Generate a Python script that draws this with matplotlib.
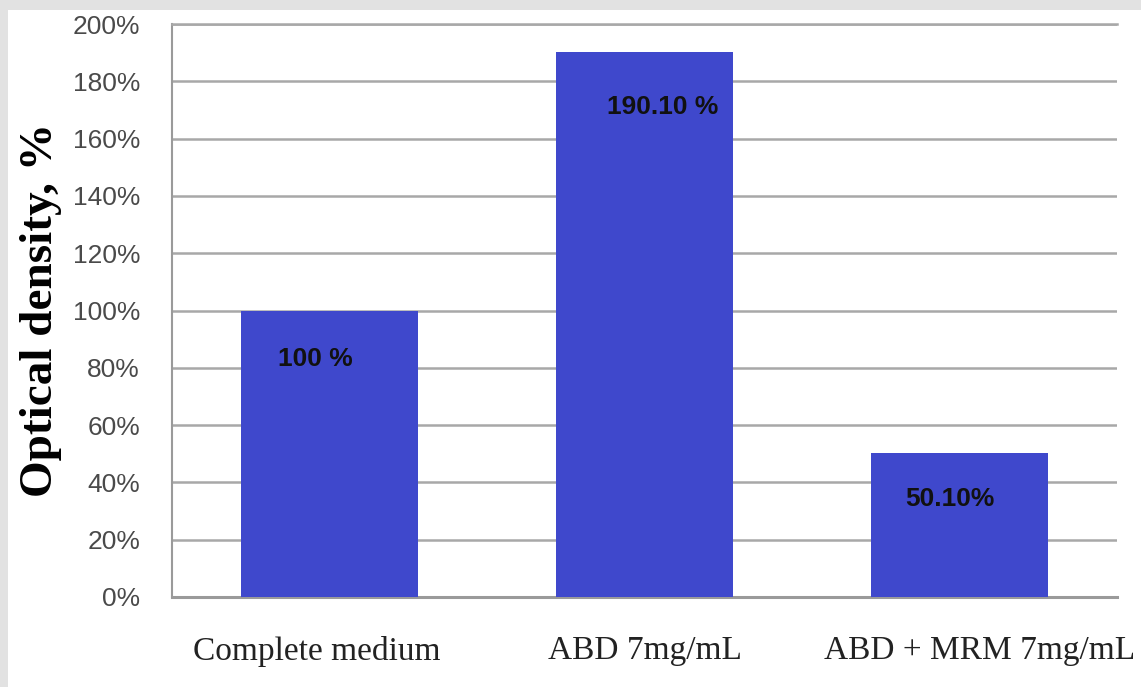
import numpy as np
import matplotlib.pyplot as plt
from matplotlib.patches import Rectangle

# data
categories = ['Complete medium', 'ABD 7mg/mL', 'ABD + MRM 7mg/mL']
values = [100, 190.1, 50.1]
bar_labels = ['100 %', '190.10 %', '50.10%']
yticks = [0, 20, 40, 60, 80, 100, 120, 140, 160, 180, 200]

fig = plt.figure(figsize=(11.41, 6.87), dpi=100)
fig.patch.set_facecolor('white')

# light gray frame on top and left
fig.patches.append(Rectangle((0, 1 - 10 / 687), 1, 10 / 687, transform=fig.transFigure,
                             facecolor='#e2e2e2', edgecolor='none', zorder=0))
fig.patches.append(Rectangle((0, 0), 8 / 1141, 1, transform=fig.transFigure,
                             facecolor='#e2e2e2', edgecolor='none', zorder=0))

ax = fig.add_axes([172 / 1141, 90 / 687, (1117 - 172) / 1141, (597 - 24) / 687])

x = np.arange(len(categories))
ax.bar(x, values, width=0.565, color='#3f48cc', zorder=3)

# labels inside the bars
dx = [-0.045, 0.057, -0.03]
dy = [17, 19, 16]
for i in range(len(values)):
    ax.text(x[i] + dx[i], values[i] - dy[i], bar_labels[i], ha='center', va='center',
            fontsize=19, fontweight='bold', family='Liberation Sans', color='#111111',
            zorder=4)

ax.set_xlim(-0.5, 2.5)
ax.set_ylim(0, 200)
ax.set_yticks(yticks)
ax.set_yticklabels([f'{t}%' for t in yticks], family='Liberation Sans', fontsize=19,
                   color='#4a4a4a')
# category labels sit slightly off the bar centres in the original
ax.set_xticks(x + np.array([-0.04, 0.0, 0.065]))
ax.set_xticklabels(categories, family='Liberation Serif', fontsize=24, color='#222222')
ax.tick_params(axis='y', length=0, pad=23)
ax.tick_params(axis='x', length=0, pad=28)

ax.grid(axis='y', color='#a8a8a8', linewidth=1.8, zorder=0)
ax.set_axisbelow(True)
ax.spines['right'].set_visible(False)
ax.spines['top'].set_color('#a8a8a8')
ax.spines['top'].set_linewidth(1.8)
ax.spines['left'].set_color('#9a9a9a')
ax.spines['left'].set_linewidth(1.5)
ax.spines['bottom'].set_color('#9a9a9a')
ax.spines['bottom'].set_linewidth(2.2)

fig.text(41 / 1141, 1 - 310 / 687, 'Optical density, %', rotation=90, ha='center',
         va='center', family='Liberation Serif', fontweight='bold', fontsize=34,
         color='black')

fig.savefig('out.png', dpi=100)
